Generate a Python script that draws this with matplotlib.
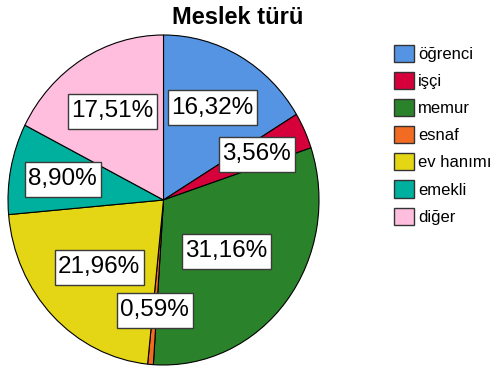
import matplotlib
matplotlib.use("Agg")
import matplotlib.pyplot as plt
import numpy as np
from matplotlib.patches import Rectangle

plt.rcParams["font.family"] = ["Liberation Sans", "DejaVu Sans"]

categories = ["öğrenci", "işçi", "memur", "esnaf", "ev hanımı", "emekli", "diğer"]
percents = [16.32, 3.56, 31.16, 0.59, 21.96, 8.90, 17.51]
colors = ["#5494E2", "#D6003A", "#2A832A", "#F26B22", "#E4D614", "#00B09F", "#FFBEDD"]
# how far out (fraction of radius) each value box sits along its wedge's mid-angle
label_r = [0.64, 0.66, 0.51, 0.67, 0.58, 0.66, 0.63]

LABEL_FS = 17.5

fig = plt.figure(figsize=(5.04, 3.72), dpi=100)
W, H = 504, 372
# pie is drawn slightly taller than wide
ax = fig.add_axes([8 / W, (H - 365) / H, 311 / W, 330 / H])

wedges, _ = ax.pie(percents, colors=colors, startangle=90, counterclock=False,
                   wedgeprops=dict(edgecolor="black", linewidth=0.8))
ax.set_aspect("auto")
ax.set_xlim(-1, 1)
ax.set_ylim(-1, 1)

texts = []
for w, p, r in zip(wedges, percents, label_r):
    mid = np.deg2rad((w.theta1 + w.theta2) / 2)
    t = ax.text(r * np.cos(mid), r * np.sin(mid), f"{p:.2f}%".replace(".", ","),
                ha="center", va="center", fontsize=LABEL_FS, zorder=5)
    texts.append(t)

# white boxes behind the value labels, with more padding top/bottom than sides
renderer = fig.canvas.get_renderer()
inv = fig.transFigure.inverted()
for t in texts:
    bb = t.get_window_extent(renderer)
    px, py = 3.5, 6.5
    x0, y0 = inv.transform((bb.x0 - px, bb.y0 - py))
    x1, y1 = inv.transform((bb.x1 + px, bb.y1 + py))
    fig.add_artist(Rectangle((x0, y0), x1 - x0, y1 - y0, transform=fig.transFigure,
                             facecolor="white", edgecolor="#3a3a3a", linewidth=1.0,
                             zorder=4))
    # keep the text above its box
    t.remove()
    fig.text((x0 + x1) / 2, (y0 + y1) / 2, t.get_text(), ha="center", va="center",
             fontsize=LABEL_FS, zorder=6)

fig.text(238 / W, 1 - 18 / H, "Meslek türü", ha="center", va="center",
         fontsize=17, fontweight="bold")

leg = fig.legend(wedges, categories, loc="upper left",
                 bbox_to_anchor=(382 / W, 1 - 33 / H), frameon=False,
                 fontsize=12, handlelength=1.25, handleheight=1.2,
                 handletextpad=0.2, labelspacing=0.6, borderpad=0.2)
for h in leg.legend_handles:
    h.set_edgecolor("#333333")
    h.set_linewidth(1.0)

fig.savefig("out.png", dpi=100)
